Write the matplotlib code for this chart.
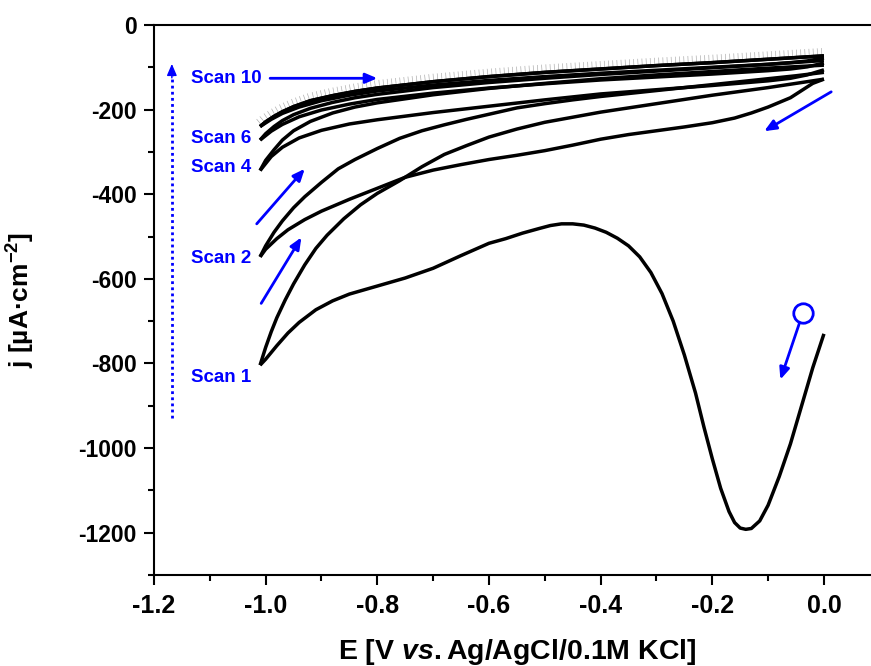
import matplotlib
matplotlib.use("Agg")
import matplotlib.pyplot as plt
import matplotlib.patheffects as pe
from matplotlib.ticker import MultipleLocator

plt.rcParams['font.family'] = ['Liberation Sans', 'DejaVu Sans']
plt.rcParams['font.weight'] = 'bold'
plt.rcParams['mathtext.fontset'] = 'custom'
plt.rcParams['mathtext.it'] = 'Liberation Sans:italic:bold'
plt.rcParams['mathtext.rm'] = 'Liberation Sans:bold'

# scan 1, cathodic sweep (0 -> -1.01 V)
e_s1c = [0.0, -0.02, -0.04, -0.06, -0.08, -0.10, -0.115, -0.13, -0.14, -0.15, -0.16,
         -0.17, -0.185, -0.20, -0.215, -0.23, -0.25, -0.27, -0.29, -0.31, -0.33,
         -0.35, -0.37, -0.39, -0.41, -0.43, -0.45, -0.47, -0.49, -0.51, -0.54, -0.57,
         -0.60, -0.65, -0.70, -0.75, -0.80, -0.85, -0.88, -0.91, -0.94, -0.96, -0.98,
         -1.0, -1.01]
j_s1c = [-730, -810, -900, -990, -1067, -1135, -1172, -1190, -1192, -1189, -1176,
         -1150, -1095, -1025, -950, -870, -780, -700, -635, -585, -548,
         -522, -504, -490, -480, -473, -470, -470, -474, -481, -492, -505,
         -516, -545, -575, -598, -617, -636, -652, -673, -703, -728, -758,
         -790, -804]
# scan 1, anodic sweep (-1.01 -> 0 V)
e_s1a = [-1.01, -1.0, -0.99, -0.98, -0.965, -0.95, -0.93, -0.91, -0.89, -0.86, -0.83,
         -0.80, -0.76, -0.72, -0.68, -0.64, -0.60, -0.55, -0.50, -0.45, -0.40, -0.35,
         -0.30, -0.25, -0.20, -0.15, -0.10, -0.05, 0.0]
j_s1a = [-804, -762, -725, -692, -650, -612, -567, -528, -497, -458, -425,
         -398, -368, -335, -306, -285, -265, -246, -230, -218, -206, -196,
         -186, -176, -166, -157, -148, -138, -128]

# scan 2
e_s2c = [0.0, -0.02, -0.04, -0.06, -0.08, -0.10, -0.13, -0.16, -0.20, -0.25, -0.30,
         -0.35, -0.40, -0.45, -0.50, -0.55, -0.60, -0.65, -0.70, -0.75, -0.80, -0.85,
         -0.90, -0.93, -0.96, -0.98, -1.0, -1.01]
j_s2c = [-128, -138, -155, -172, -183, -194, -208, -220, -231, -241, -250,
         -259, -270, -284, -297, -308, -318, -330, -343, -360, -386, -412,
         -440, -460, -484, -505, -530, -548]
e_s2a = [-1.01, -1.0, -0.985, -0.97, -0.95, -0.93, -0.90, -0.87, -0.84, -0.80, -0.76,
         -0.72, -0.68, -0.64, -0.60, -0.55, -0.50, -0.45, -0.40, -0.35, -0.30, -0.25,
         -0.20, -0.15, -0.10, -0.05, 0.0]
j_s2a = [-548, -522, -490, -463, -432, -406, -372, -340, -318, -292, -268,
         -250, -236, -223, -211, -196, -186, -177, -169, -162, -155, -148,
         -141, -134, -127, -120, -112]

# scans 4, 6 and 10 (same potential grid)
e_c = [0.0, -0.03, -0.06, -0.10, -0.20, -0.30, -0.40, -0.50, -0.60, -0.70, -0.80,
       -0.85, -0.90, -0.94, -0.97, -0.99, -1.01]
e_a = [-1.01, -1.0, -0.985, -0.97, -0.95, -0.92, -0.88, -0.84, -0.80, -0.70, -0.60,
       -0.50, -0.40, -0.30, -0.20, -0.10, 0.0]
j_s4c = [-106, -118, -126, -132, -143, -153, -163, -177, -192, -207, -224,
         -234, -249, -267, -289, -311, -344]
j_s4a = [-344, -320, -295, -272, -250, -228, -208, -194, -184, -165, -150,
         -138, -127, -118, -110, -102, -95]
j_s6c = [-90, -99, -104, -108, -116, -123, -130, -139, -149, -161, -176,
         -187, -201, -217, -235, -251, -272]
j_s6a = [-272, -257, -240, -226, -212, -197, -183, -172, -164, -148, -136,
         -126, -117, -109, -101, -93, -84]
j_s10c = [-78, -85, -89, -93, -100, -107, -114, -122, -131, -142, -156,
          -166, -179, -194, -209, -223, -240]
j_s10a = [-240, -229, -216, -205, -193, -179, -167, -157, -149, -134, -122,
          -112, -104, -96, -89, -81, -73]

scan_labels = ['Scan 10', 'Scan 6', 'Scan 4', 'Scan 2', 'Scan 1']
label_j = [-126, -268, -337, -551, -833]

fig = plt.figure(figsize=(8.71, 6.66), dpi=100)
ax = fig.add_axes([0.1768, 0.1366, 0.8232, 0.8259])

lw = 2.5
for e, j in [(e_s1c, j_s1c), (e_s1a, j_s1a), (e_s2c, j_s2c), (e_s2a, j_s2a),
             (e_c, j_s4c), (e_a, j_s4a), (e_c, j_s6c), (e_a, j_s6a), (e_c, j_s10c)]:
    ax.plot(e, j, color='black', lw=lw, solid_capstyle='butt', solid_joinstyle='round')
# last scan carries the faint grey hatching on top
ax.plot(e_a, j_s10a, color='black', lw=lw, solid_capstyle='butt',
        path_effects=[pe.withTickedStroke(spacing=3.0, angle=90, length=1.9,
                                          linewidth=0.5, foreground='#b0b0b0'),
                      pe.Normal()])

# start marker
ax.plot([-0.038], [-680], 'o', ms=14, mfc='white', mec='blue', mew=2)

blue = '#0000ff'
for txt, jj in zip(scan_labels, label_j):
    ax.text(-1.134, jj, txt, color=blue, fontsize=13.5, fontweight='bold',
            ha='left', va='center')

arr = dict(arrowstyle='-|>,head_length=0.7,head_width=0.3', color=blue, lw=2,
           shrinkA=0, shrinkB=0)
ax.annotate('', xy=(-0.80, -126), xytext=(-0.992, -126), arrowprops=arr)
ax.annotate('', xy=(-0.93, -340), xytext=(-1.016, -470), arrowprops=arr)
ax.annotate('', xy=(-0.936, -502), xytext=(-1.008, -658), arrowprops=arr)
ax.annotate('', xy=(-0.107, -251), xytext=(0.013, -158), arrowprops=arr)
ax.annotate('', xy=(-0.078, -838), xytext=(-0.044, -705), arrowprops=arr)
# dotted arrow showing decreasing current
ax.plot([-1.168, -1.168], [-930, -115], color=blue, lw=2, ls=(0, (1, 1.2)))
ax.annotate('', xy=(-1.168, -92), xytext=(-1.168, -125),
            arrowprops=dict(arrowstyle='-|>,head_length=0.7,head_width=0.3',
                            color=blue, lw=1, shrinkA=0, shrinkB=0))

ax.set_xlim(-1.2, 0.0843)
ax.set_ylim(-1300, 0)
ax.xaxis.set_minor_locator(MultipleLocator(0.1))
ax.yaxis.set_minor_locator(MultipleLocator(100))
ax.set_xticks([-1.2, -1.0, -0.8, -0.6, -0.4, -0.2, 0.0])
ax.set_xticklabels(['-1.2', '-1.0', '-0.8', '-0.6', '-0.4', '-0.2', '0.0'])
ax.set_yticks([0, -200, -400, -600, -800, -1000, -1200])
ax.set_yticklabels(['0', '-200', '-400', '-600', '-800', '-1000', '-1200'])

ax.spines['right'].set_visible(False)
for s in ['left', 'bottom', 'top']:
    ax.spines[s].set_linewidth(1.5)
ax.tick_params(which='major', direction='out', length=7.5, width=1.5)
ax.tick_params(which='minor', direction='out', length=4, width=1.5)
ax.tick_params(axis='x', labelsize=18, pad=6)
ax.tick_params(axis='y', labelsize=16.5, pad=5)

ax.set_xlabel(r'E [V $\mathit{vs.}$Ag/AgCl/0.1M KCl]', fontsize=20.5, fontweight='bold')
ax.set_ylabel(r'j [µA·cm$^{\mathregular{-2}}$]', fontsize=19, fontweight='bold')
ax.xaxis.set_label_coords(0.506, -0.113)
ax.yaxis.set_label_coords(-0.163, 0.5)

fig.savefig('out.png', dpi=100)
